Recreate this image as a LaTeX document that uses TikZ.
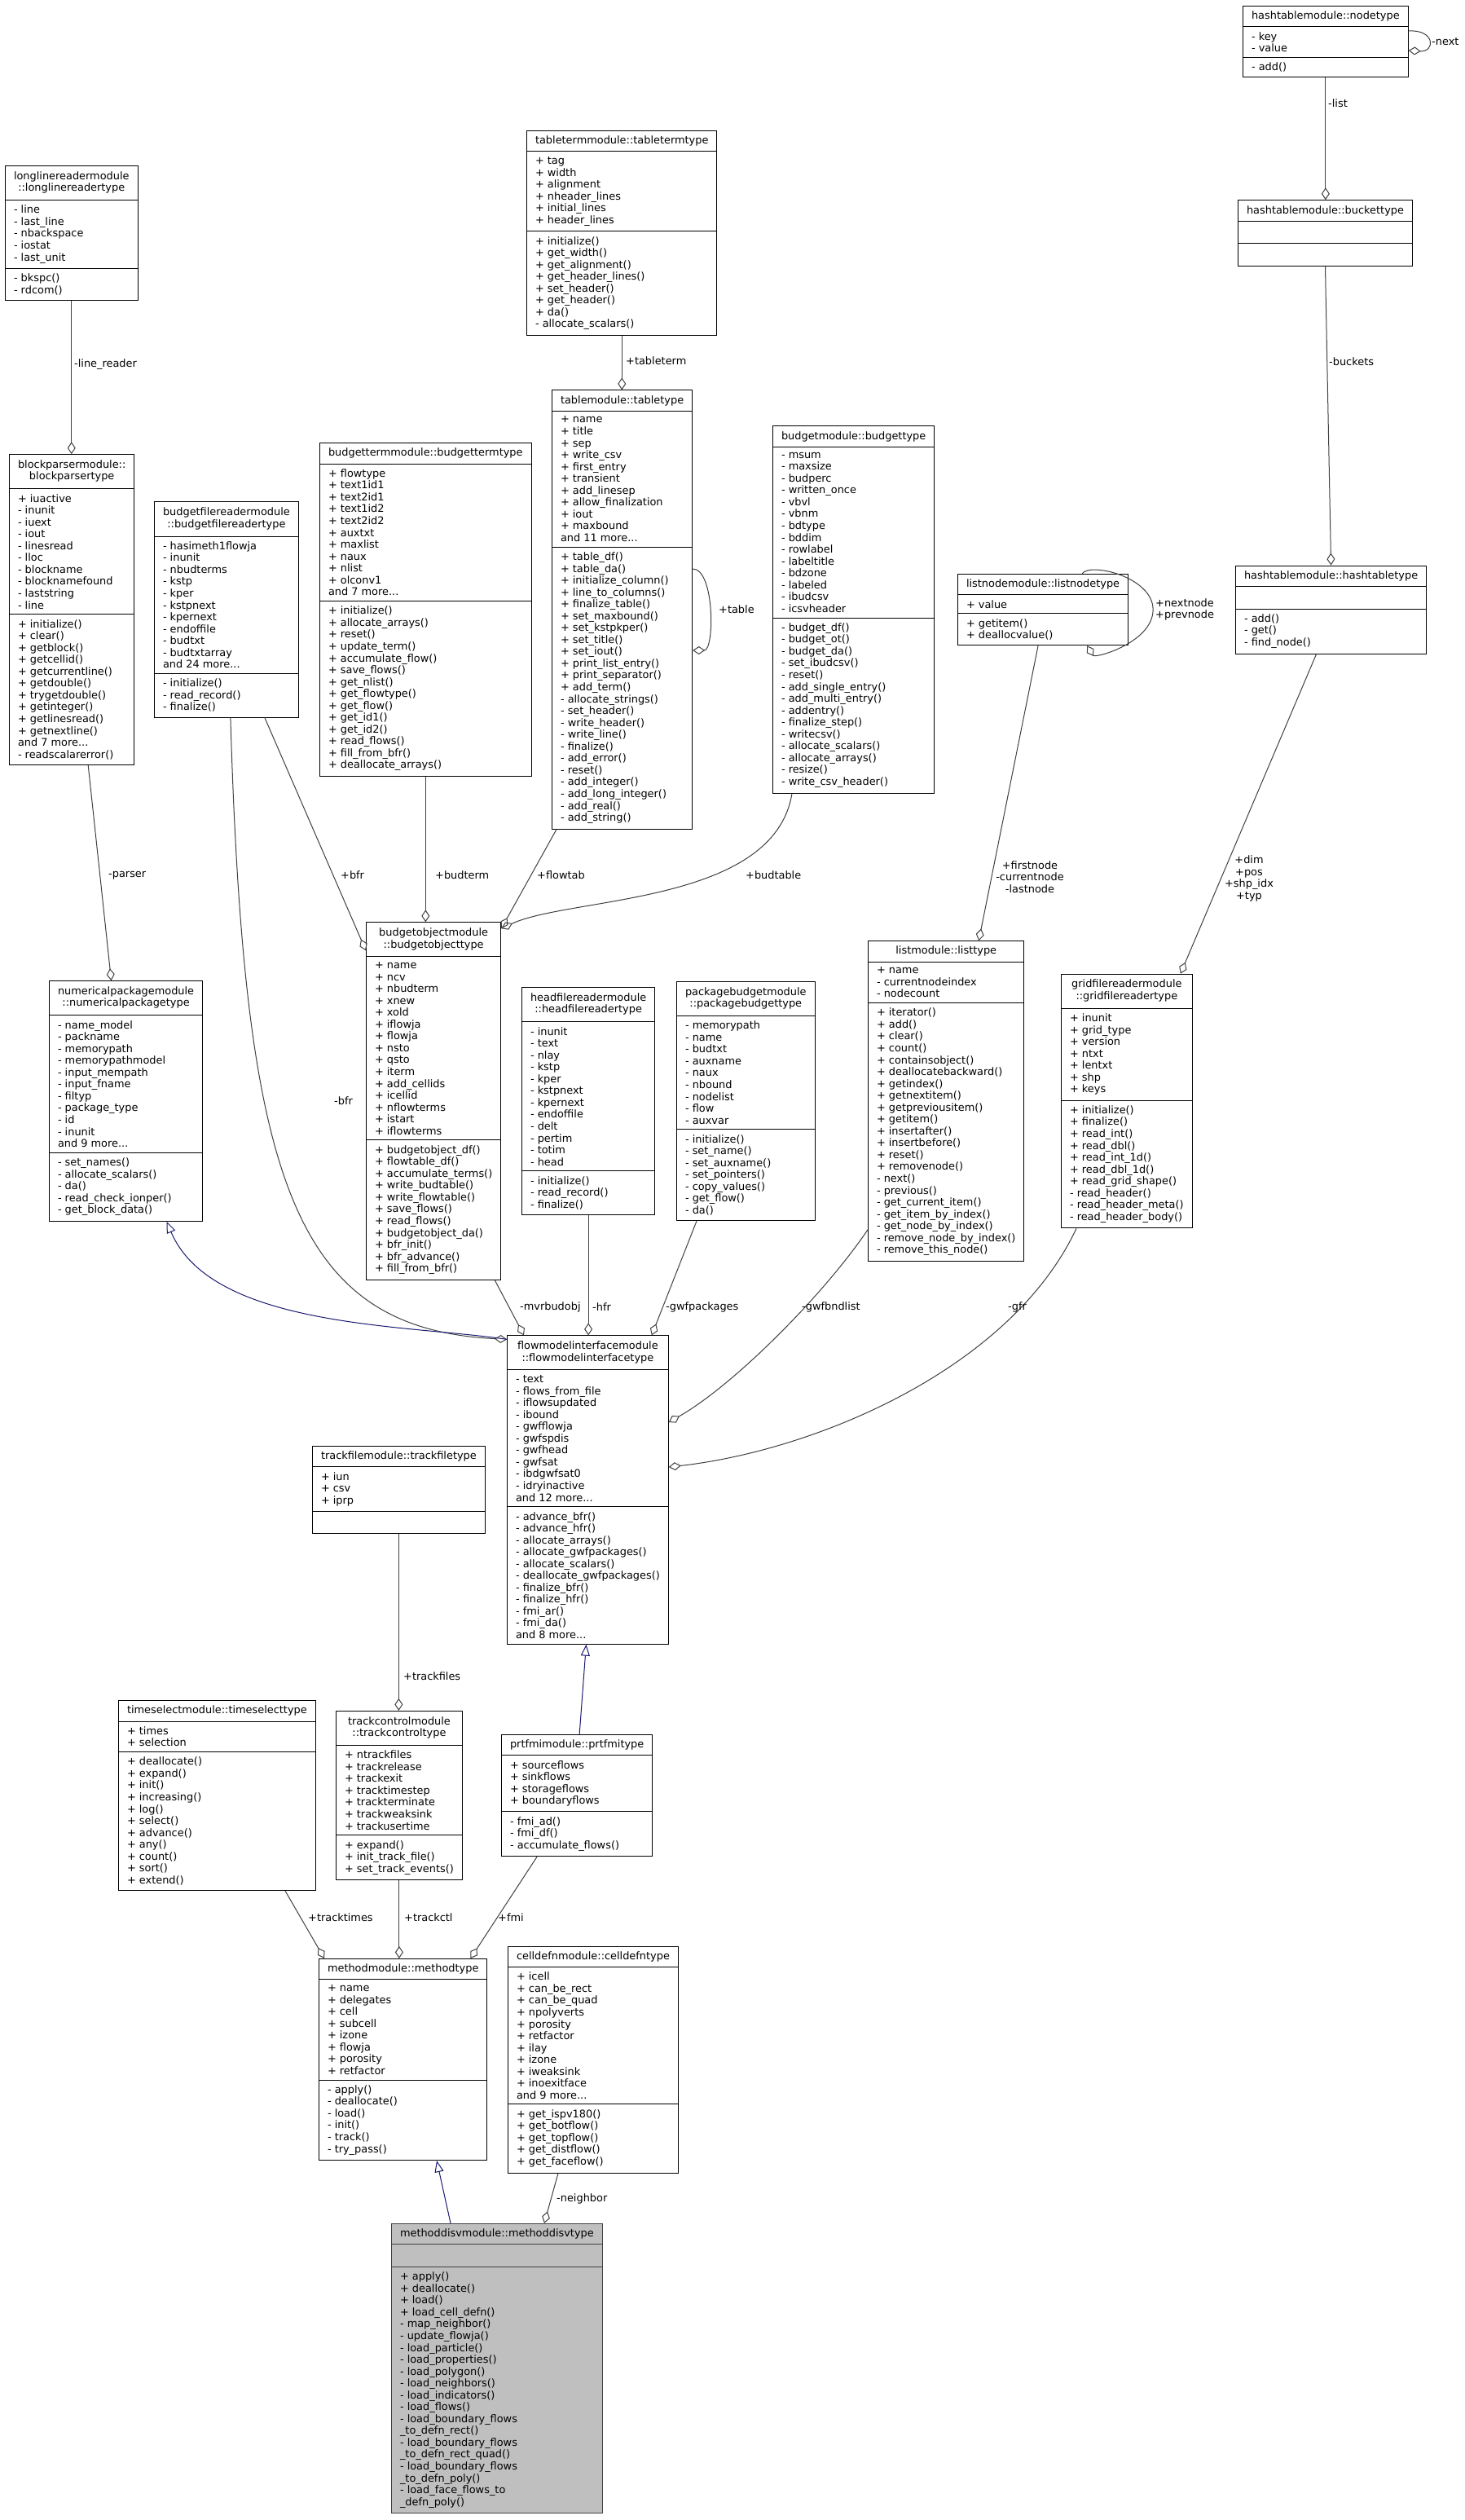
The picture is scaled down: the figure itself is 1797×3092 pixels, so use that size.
\documentclass[tikz,border=0pt]{standalone}
\usepackage{fontspec}
\setmainfont{DejaVu Sans}
\usetikzlibrary{shapes.multipart,arrows.meta}

\definecolor{edgegray}{HTML}{404040}
\definecolor{inhblue}{HTML}{191970}
\definecolor{rootgray}{HTML}{BFBFBF}
\newcommand\dxfont{\fontsize{12.9pt}{14.55pt}\selectfont}
\newcommand\twoln[2]{\begin{tabular}{@{}c@{}}#1\\#2\end{tabular}}

\tikzset{
  cls/.style={draw=black, line width=1pt, fill=white, rectangle split, rectangle split parts=3,
    rectangle split part align={center,left,left}, align=left, inner xsep=10.5pt, inner ysep=6pt,
    anchor=west, font=\dxfont},
  agg/.style={draw=edgegray, line width=1pt, -{Diamond[open,length=15pt,width=10pt]}},
  inh/.style={draw=inhblue, line width=1pt, -{Triangle[open,length=14pt,width=11pt]}},
  lbl/.style={font=\dxfont, inner sep=0pt, anchor=west},
}

\begin{document}
\begin{tikzpicture}[x=1pt, y=-1pt]
\fill[white] (0,0) rectangle (1797,3092);
\useasboundingbox (0,0) rectangle (1797,3092);

\node[cls] (nt) at (1525,51) {hashtablemodule::nodetype
  \nodepart{two}- key\\- value
  \nodepart{three}- add()};
\node[cls] (bt) at (1519,286) {hashtablemodule::buckettype
  \nodepart{two}\strut
  \nodepart{three}\strut};
\node[cls] (ht) at (1516,748) {hashtablemodule::hashtabletype
  \nodepart{two}\strut
  \nodepart{three}- add()\\- get()\\- find\_node()};
\node[cls] (ttt) at (646,286) {tabletermmodule::tabletermtype
  \nodepart{two}+ tag\\+ width\\+ alignment\\+ nheader\_lines\\+ initial\_lines\\+ header\_lines
  \nodepart{three}+ initialize()\\+ get\_width()\\+ get\_alignment()\\+ get\_header\_lines()\\+ set\_header()\\+ get\_header()\\+ da()\\- allocate\_scalars()};
\node[cls] (tt) at (677,748) {tablemodule::tabletype
  \nodepart{two}+ name\\+ title\\+ sep\\+ write\_csv\\+ first\_entry\\+ transient\\+ add\_linesep\\+ allow\_finalization\\+ iout\\+ maxbound\\and 11 more...
  \nodepart{three}+ table\_df()\\+ table\_da()\\+ initialize\_column()\\+ line\_to\_columns()\\+ finalize\_table()\\+ set\_maxbound()\\+ set\_kstpkper()\\+ set\_title()\\+ set\_iout()\\+ print\_list\_entry()\\+ print\_separator()\\+ add\_term()\\- allocate\_strings()\\- set\_header()\\- write\_header()\\- write\_line()\\- finalize()\\- add\_error()\\- reset()\\- add\_integer()\\- add\_long\_integer()\\- add\_real()\\- add\_string()};
\node[cls] (llr) at (6,286) {\twoln{longlinereadermodule}{::longlinereadertype}
  \nodepart{two}- line\\- last\_line\\- nbackspace\\- iostat\\- last\_unit
  \nodepart{three}- bkspc()\\- rdcom()};
\node[cls] (bp) at (11,748) {\twoln{blockparsermodule::}{blockparsertype}
  \nodepart{two}+ iuactive\\- inunit\\- iuext\\- iout\\- linesread\\- lloc\\- blockname\\- blocknamefound\\- laststring\\- line
  \nodepart{three}+ initialize()\\+ clear()\\+ getblock()\\+ getcellid()\\+ getcurrentline()\\+ getdouble()\\+ trygetdouble()\\+ getinteger()\\+ getlinesread()\\+ getnextline()\\and 7 more...\\- readscalarerror()};
\node[cls] (bfr) at (189,748) {\twoln{budgetfilereadermodule}{::budgetfilereadertype}
  \nodepart{two}- hasimeth1flowja\\- inunit\\- nbudterms\\- kstp\\- kper\\- kstpnext\\- kpernext\\- endoffile\\- budtxt\\- budtxtarray\\and 24 more...
  \nodepart{three}- initialize()\\- read\_record()\\- finalize()};
\node[cls] (bterm) at (392,748) {budgettermmodule::budgettermtype
  \nodepart{two}+ flowtype\\+ text1id1\\+ text2id1\\+ text1id2\\+ text2id2\\+ auxtxt\\+ maxlist\\+ naux\\+ nlist\\+ olconv1\\and 7 more...
  \nodepart{three}+ initialize()\\+ allocate\_arrays()\\+ reset()\\+ update\_term()\\+ accumulate\_flow()\\+ save\_flows()\\+ get\_nlist()\\+ get\_flowtype()\\+ get\_flow()\\+ get\_id1()\\+ get\_id2()\\+ read\_flows()\\+ fill\_from\_bfr()\\+ deallocate\_arrays()};
\node[cls] (bud) at (948,748) {budgetmodule::budgettype
  \nodepart{two}- msum\\- maxsize\\- budperc\\- written\_once\\- vbvl\\- vbnm\\- bdtype\\- bddim\\- rowlabel\\- labeltitle\\- bdzone\\- labeled\\- ibudcsv\\- icsvheader
  \nodepart{three}- budget\_df()\\- budget\_ot()\\- budget\_da()\\- set\_ibudcsv()\\- reset()\\- add\_single\_entry()\\- add\_multi\_entry()\\- addentry()\\- finalize\_step()\\- writecsv()\\- allocate\_scalars()\\- allocate\_arrays()\\- resize()\\- write\_csv\_header()};
\node[cls] (lnt) at (1175,748) {listnodemodule::listnodetype
  \nodepart{two}+ value
  \nodepart{three}+ getitem()\\+ deallocvalue()};
\node[cls] (np) at (60,1351) {\twoln{numericalpackagemodule}{::numericalpackagetype}
  \nodepart{two}- name\_model\\- packname\\- memorypath\\- memorypathmodel\\- input\_mempath\\- input\_fname\\- filtyp\\- package\_type\\- id\\- inunit\\and 9 more...
  \nodepart{three}- set\_names()\\- allocate\_scalars()\\- da()\\- read\_check\_ionper()\\- get\_block\_data()};
\node[cls] (bo) at (449,1351) {\twoln{budgetobjectmodule}{::budgetobjecttype}
  \nodepart{two}+ name\\+ ncv\\+ nbudterm\\+ xnew\\+ xold\\+ iflowja\\+ flowja\\+ nsto\\+ qsto\\+ iterm\\+ add\_cellids\\+ icellid\\+ nflowterms\\+ istart\\+ iflowterms
  \nodepart{three}+ budgetobject\_df()\\+ flowtable\_df()\\+ accumulate\_terms()\\+ write\_budtable()\\+ write\_flowtable()\\+ save\_flows()\\+ read\_flows()\\+ budgetobject\_da()\\+ bfr\_init()\\+ bfr\_advance()\\+ fill\_from\_bfr()};
\node[cls] (hfr) at (640,1351) {\twoln{headfilereadermodule}{::headfilereadertype}
  \nodepart{two}- inunit\\- text\\- nlay\\- kstp\\- kper\\- kstpnext\\- kpernext\\- endoffile\\- delt\\- pertim\\- totim\\- head
  \nodepart{three}- initialize()\\- read\_record()\\- finalize()};
\node[cls] (pb) at (830,1351) {\twoln{packagebudgetmodule}{::packagebudgettype}
  \nodepart{two}- memorypath\\- name\\- budtxt\\- auxname\\- naux\\- nbound\\- nodelist\\- flow\\- auxvar
  \nodepart{three}- initialize()\\- set\_name()\\- set\_auxname()\\- set\_pointers()\\- copy\_values()\\- get\_flow()\\- da()};
\node[cls] (lt) at (1065,1351) {listmodule::listtype
  \nodepart{two}+ name\\- currentnodeindex\\- nodecount
  \nodepart{three}+ iterator()\\+ add()\\+ clear()\\+ count()\\+ containsobject()\\+ deallocatebackward()\\+ getindex()\\+ getnextitem()\\+ getpreviousitem()\\+ getitem()\\+ insertafter()\\+ insertbefore()\\+ reset()\\+ removenode()\\- next()\\- previous()\\- get\_current\_item()\\- get\_item\_by\_index()\\- get\_node\_by\_index()\\- remove\_node\_by\_index()\\- remove\_this\_node()};
\node[cls] (gfr) at (1302,1351) {\twoln{gridfilereadermodule}{::gridfilereadertype}
  \nodepart{two}+ inunit\\+ grid\_type\\+ version\\+ ntxt\\+ lentxt\\+ shp\\+ keys
  \nodepart{three}+ initialize()\\+ finalize()\\+ read\_int()\\+ read\_dbl()\\+ read\_int\_1d()\\+ read\_dbl\_1d()\\+ read\_grid\_shape()\\- read\_header()\\- read\_header\_meta()\\- read\_header\_body()};
\node[cls] (tf) at (383,1828) {trackfilemodule::trackfiletype
  \nodepart{two}+ iun\\+ csv\\+ iprp
  \nodepart{three}\strut};
\node[cls] (fmi) at (622,1828) {\twoln{flowmodelinterfacemodule}{::flowmodelinterfacetype}
  \nodepart{two}- text\\- flows\_from\_file\\- iflowsupdated\\- ibound\\- gwfflowja\\- gwfspdis\\- gwfhead\\- gwfsat\\- ibdgwfsat0\\- idryinactive\\and 12 more...
  \nodepart{three}- advance\_bfr()\\- advance\_hfr()\\- allocate\_arrays()\\- allocate\_gwfpackages()\\- allocate\_scalars()\\- deallocate\_gwfpackages()\\- finalize\_bfr()\\- finalize\_hfr()\\- fmi\_ar()\\- fmi\_da()\\and 8 more...};
\node[cls] (ts) at (145,2203) {timeselectmodule::timeselecttype
  \nodepart{two}+ times\\+ selection
  \nodepart{three}+ deallocate()\\+ expand()\\+ init()\\+ increasing()\\+ log()\\+ select()\\+ advance()\\+ any()\\+ count()\\+ sort()\\+ extend()};
\node[cls] (tc) at (412,2203) {\twoln{trackcontrolmodule}{::trackcontroltype}
  \nodepart{two}+ ntrackfiles\\+ trackrelease\\+ trackexit\\+ tracktimestep\\+ trackterminate\\+ trackweaksink\\+ trackusertime
  \nodepart{three}+ expand()\\+ init\_track\_file()\\+ set\_track\_events()};
\node[cls] (prt) at (615,2203) {prtfmimodule::prtfmitype
  \nodepart{two}+ sourceflows\\+ sinkflows\\+ storageflows\\+ boundaryflows
  \nodepart{three}- fmi\_ad()\\- fmi\_df()\\- accumulate\_flows()};
\node[cls] (mt) at (391,2527) {methodmodule::methodtype
  \nodepart{two}+ name\\+ delegates\\+ cell\\+ subcell\\+ izone\\+ flowja\\+ porosity\\+ retfactor
  \nodepart{three}- apply()\\- deallocate()\\- load()\\- init()\\- track()\\- try\_pass()};
\node[cls] (cd) at (623,2527) {celldefnmodule::celldefntype
  \nodepart{two}+ icell\\+ can\_be\_rect\\+ can\_be\_quad\\+ npolyverts\\+ porosity\\+ retfactor\\+ ilay\\+ izone\\+ iweaksink\\+ inoexitface\\and 9 more...
  \nodepart{three}+ get\_ispv180()\\+ get\_botflow()\\+ get\_topflow()\\+ get\_distflow()\\+ get\_faceflow()};
\node[cls, draw=black!75, fill=rootgray] (md) at (480,2906) {methoddisvmodule::methoddisvtype
  \nodepart{two}\strut
  \nodepart{three}+ apply()\\+ deallocate()\\+ load()\\+ load\_cell\_defn()\\- map\_neighbor()\\- update\_flowja()\\- load\_particle()\\- load\_properties()\\- load\_polygon()\\- load\_neighbors()\\- load\_indicators()\\- load\_flows()\\- load\_boundary\_flows\\\_to\_defn\_rect()\\- load\_boundary\_flows\\\_to\_defn\_rect\_quad()\\- load\_boundary\_flows\\\_to\_defn\_poly()\\- load\_face\_flows\_to\\\_defn\_poly()};

\draw[agg] ([yshift=13pt]nt.east) .. controls +(33pt,2pt) and +(33pt,-2pt) .. ([yshift=-11pt]nt.east);
\draw[agg] ([yshift=50pt]tt.east) .. controls +(27pt,0pt) and +(27pt,0pt) .. ([yshift=-50pt]tt.east);
\draw[agg] ([xshift=-57pt]lnt.north east) .. controls +(10pt,14pt) and +(0pt,40pt) .. ([xshift=30pt]lnt.east)
  .. controls +(0pt,-40pt) and +(10pt,-16pt) .. ([xshift=-51pt]lnt.south east);
\draw[agg] (nt.south) -- (nt.south |- bt.north);
\draw[agg] (bt.south) -- (ht.north);
\draw[agg] (ttt.south) -- (ttt.south |- tt.north);
\draw[agg] (llr.south) -- (llr.south |- bp.north);
\draw[agg] ([xshift=20pt]bp.south) -- ([xshift=-18pt]np.north);
\draw[agg] ([xshift=47pt]bfr.south) -- ([yshift=-35pt]bo.north west);
\draw[agg] ([xshift=5pt]bfr.south) .. controls (300,1450) and (360,1630) .. ([yshift=-5pt]fmi.north west);
\draw[agg] (bterm.south) -- (bterm.south |- bo.north);
\draw[agg] ([xshift=6pt]tt.south west) -- ([yshift=-8pt]bo.north east);
\draw[agg] ([xshift=24pt]bud.south west) .. controls (950,1110) and (700,1100) .. ([yshift=-8pt]bo.north east);
\draw[agg] ([xshift=-6pt]lnt.south) -- ([xshift=40pt]lt.north);
\draw[agg] ([xshift=-18pt]ht.south) -- ([xshift=66pt]gfr.north);
\draw[agg] ([xshift=-8pt]bo.south east) -- ([xshift=21pt]fmi.north west);
\draw[agg] (hfr.south) -- (hfr.south |- fmi.north);
\draw[agg] ([xshift=25pt]pb.south west) -- ([xshift=-21pt]fmi.north east);
\draw[agg] ([yshift=39pt]lt.south west) .. controls (1010,1590) and (900,1700) .. ([yshift=83pt]fmi.east);
\draw[agg] ([xshift=19pt]gfr.south west) .. controls (1240,1680) and (1000,1780) .. ([yshift=28pt]fmi.east);
\draw[agg] (tf.south) -- (tf.south |- tc.north);
\draw[agg] ([xshift=205pt]ts.south west) -- ([xshift=7pt]mt.north west);
\draw[agg] (tc.south) -- (tc.south |- mt.north);
\draw[agg] ([xshift=44pt]prt.south west) -- ([xshift=-21pt]mt.north east);
\draw[agg] ([xshift=62pt]cd.south west) -- ([xshift=188pt]md.north west);

\draw[inh] ([yshift=-5pt]fmi.north west) .. controls (500,1625) and (260,1630) .. ([xshift=50pt]np.south);
\draw[inh] ([xshift=3pt]prt.north) -- ([xshift=-2pt]fmi.south);
\draw[inh] ([xshift=73pt]md.north west) -- ([xshift=145pt]mt.south west);

\foreach \x/\y/\t [count=\n] in {1757/51/-next, 1630/127/-list, 1631/444/-buckets, 768/443/+tableterm,
    91/447/-line\_reader, 882/748/+table, 133/1074/-parser, 418/1074/+bfr, 534/1074/+budterm,
    659/1074/+flowtab, 915/1074/+budtable, 410/1351/-bfr, 638/1604/-mvrbudobj, 727/1604/-hfr,
    817/1604/-gwfpackages, 984/1604/-gwfbndlist, 1237/1604/-gfr, 495/2057/+trackfiles,
    378/2353/+tracktimes, 496/2353/+trackctl, 611/2353/+fmi, 683/2698/-neighbor}
  \node[lbl] (lab\n) at (\x,\y) {\t};
\node[lbl, align=left] (labnode) at (1418,748) {+nextnode\\+prevnode};
\node[lbl, anchor=center, align=center] (lablist) at (1264,1076) {+firstnode\\-currentnode\\-lastnode};
\node[lbl, anchor=center, align=center] (labgrid) at (1533,1078) {+dim\\+pos\\+shp\_idx\\+typ};
\end{tikzpicture}
\end{document}
